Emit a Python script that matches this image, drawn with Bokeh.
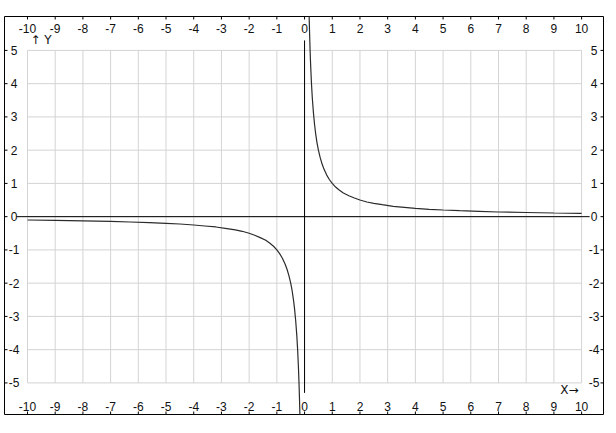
from bokeh.plotting import figure
from bokeh.models import ColumnDataSource
from bokeh.core.properties import value
from bokeh.embed import file_html
from bokeh.resources import INLINE

# ---- data ----
x_ticks = list(range(-10, 11))
y_ticks = list(range(-5, 6))
x_tick_labels = [str(v) for v in x_ticks]
y_tick_labels = [str(v) for v in y_ticks]

x_right = [0.15, 0.16, 0.17, 0.18, 0.2, 0.22, 0.25, 0.28, 0.32, 0.36, 0.4, 0.45, 0.5, 0.56,
           0.63, 0.7, 0.8, 0.9, 1.0, 1.12, 1.25, 1.4, 1.6, 1.8, 2.0, 2.25, 2.5, 2.8, 3.2,
           3.6, 4.0, 4.5, 5.0, 5.6, 6.3, 7.0, 8.0, 9.0, 10.0]
y_right = [6.67, 6.25, 5.88, 5.56, 5.0, 4.55, 4.0, 3.57, 3.13, 2.78, 2.5, 2.22, 2.0, 1.79,
           1.59, 1.43, 1.25, 1.11, 1.0, 0.89, 0.8, 0.71, 0.63, 0.56, 0.5, 0.44, 0.4, 0.36, 0.31,
           0.28, 0.25, 0.22, 0.2, 0.18, 0.16, 0.14, 0.125, 0.11, 0.1]
x_left = [-10.0, -9.0, -8.0, -7.0, -6.3, -5.6, -5.0, -4.5, -4.0, -3.6, -3.2, -2.8, -2.5, -2.25,
          -2.0, -1.8, -1.6, -1.4, -1.25, -1.12, -1.0, -0.9, -0.8, -0.7, -0.63, -0.56, -0.5,
          -0.45, -0.4, -0.36, -0.32, -0.28, -0.25, -0.22, -0.2, -0.18, -0.17, -0.16, -0.15]
y_left = [-0.1, -0.11, -0.125, -0.14, -0.16, -0.18, -0.2, -0.22, -0.25, -0.28, -0.31, -0.36,
          -0.4, -0.44, -0.5, -0.56, -0.63, -0.71, -0.8, -0.89, -1.0, -1.11, -1.25, -1.43, -1.59,
          -1.79, -2.0, -2.22, -2.5, -2.78, -3.13, -3.57, -4.0, -4.55, -5.0, -5.56, -5.88, -6.25,
          -6.67]

# ---- layout ----
x_min, x_max = -10.83, 10.79
y_min, y_max = -5.95, 6.02
frame_w, frame_h = 599, 398
ux = (x_max - x_min) / frame_w
uy = (y_max - y_min) / frame_h

p = figure(width=frame_w + 5, height=frame_h + 18, output_backend="svg",
           toolbar_location=None, x_range=(x_min, x_max), y_range=(y_min, y_max),
           x_axis_location=None, y_axis_location=None,
           min_border_left=4, min_border_right=1, min_border_top=16, min_border_bottom=2)
p.grid.visible = False
p.outline_line_color = "black"
p.outline_line_width = 1
p.background_fill_color = "white"
p.border_fill_color = "white"

grid_color = "#d4d4d4"
# grid lines limited to the tick extents
p.segment(x0=x_ticks, y0=[y_ticks[0]] * len(x_ticks), x1=x_ticks, y1=[y_ticks[-1]] * len(x_ticks),
          line_color=grid_color, line_width=1)
p.segment(x0=[x_ticks[0]] * len(y_ticks), y0=y_ticks, x1=[x_ticks[-1]] * len(y_ticks), y1=y_ticks,
          line_color=grid_color, line_width=1)

# axes through origin
p.segment(x0=[x_ticks[0] - 11 * ux], y0=[0], x1=[x_ticks[-1] + 8 * ux], y1=[0],
          line_color="black", line_width=1)
p.segment(x0=[0], y0=[y_ticks[0] - 10 * uy], x1=[0], y1=[y_ticks[-1] + 10 * uy],
          line_color="black", line_width=1)

# curve
p.line(x_right, y_right, line_color="#2b2b2b", line_width=1.2)
p.line(x_left, y_left, line_color="#2b2b2b", line_width=1.2)

# tick marks on frame edges
tl = 3
nx, ny = len(x_ticks), len(y_ticks)
p.segment(x0=x_ticks, y0=[y_max] * nx, x1=x_ticks, y1=[y_max - tl * uy] * nx, line_color="black")
p.segment(x0=x_ticks, y0=[y_min] * nx, x1=x_ticks, y1=[y_min + tl * uy] * nx, line_color="black")
p.segment(x0=[x_min] * ny, y0=y_ticks, x1=[x_min + tl * ux] * ny, y1=y_ticks, line_color="black")
p.segment(x0=[x_max] * ny, y0=y_ticks, x1=[x_max - tl * ux] * ny, y1=y_ticks, line_color="black")

font = value("Liberation Sans")
fs = "12px"
lab_color = "#111111"

src_x = ColumnDataSource(dict(x=x_ticks, t=x_tick_labels,
                              yt=[y_max - 11.5 * uy] * nx, yb=[y_min + 8.5 * uy] * nx))
p.text(x="x", y="yt", text="t", source=src_x, text_font=font, text_font_size=fs,
       text_align="center", text_baseline="middle", text_color=lab_color)
p.text(x="x", y="yb", text="t", source=src_x, text_font=font, text_font_size=fs,
       text_align="center", text_baseline="middle", text_color=lab_color)

src_y = ColumnDataSource(dict(y=y_ticks, t=y_tick_labels,
                              xl=[x_min + 9.5 * ux] * ny, xr=[x_max - 9.5 * ux] * ny))
p.text(x="xl", y="y", text="t", source=src_y, text_font=font, text_font_size=fs,
       text_align="center", text_baseline="middle", text_color=lab_color)
p.text(x="xr", y="y", text="t", source=src_y, text_font=font, text_font_size=fs,
       text_align="center", text_baseline="middle", text_color=lab_color)

# axis name labels
afont = value("DejaVu Sans")
p.text(x=[x_ticks[0] + 3 * ux], y=[y_ticks[-1] + 10 * uy], text=["\u2191 Y"], text_font=afont,
       text_font_size="12px", text_align="left", text_baseline="middle", text_color=lab_color)
p.text(x=[x_ticks[-1] - 3 * ux], y=[y_ticks[0] - 7 * uy], text=["X\u2192"], text_font=afont,
       text_font_size="12px", text_align="right", text_baseline="middle", text_color=lab_color)

open("out.html", "w").write(file_html(p, INLINE))
